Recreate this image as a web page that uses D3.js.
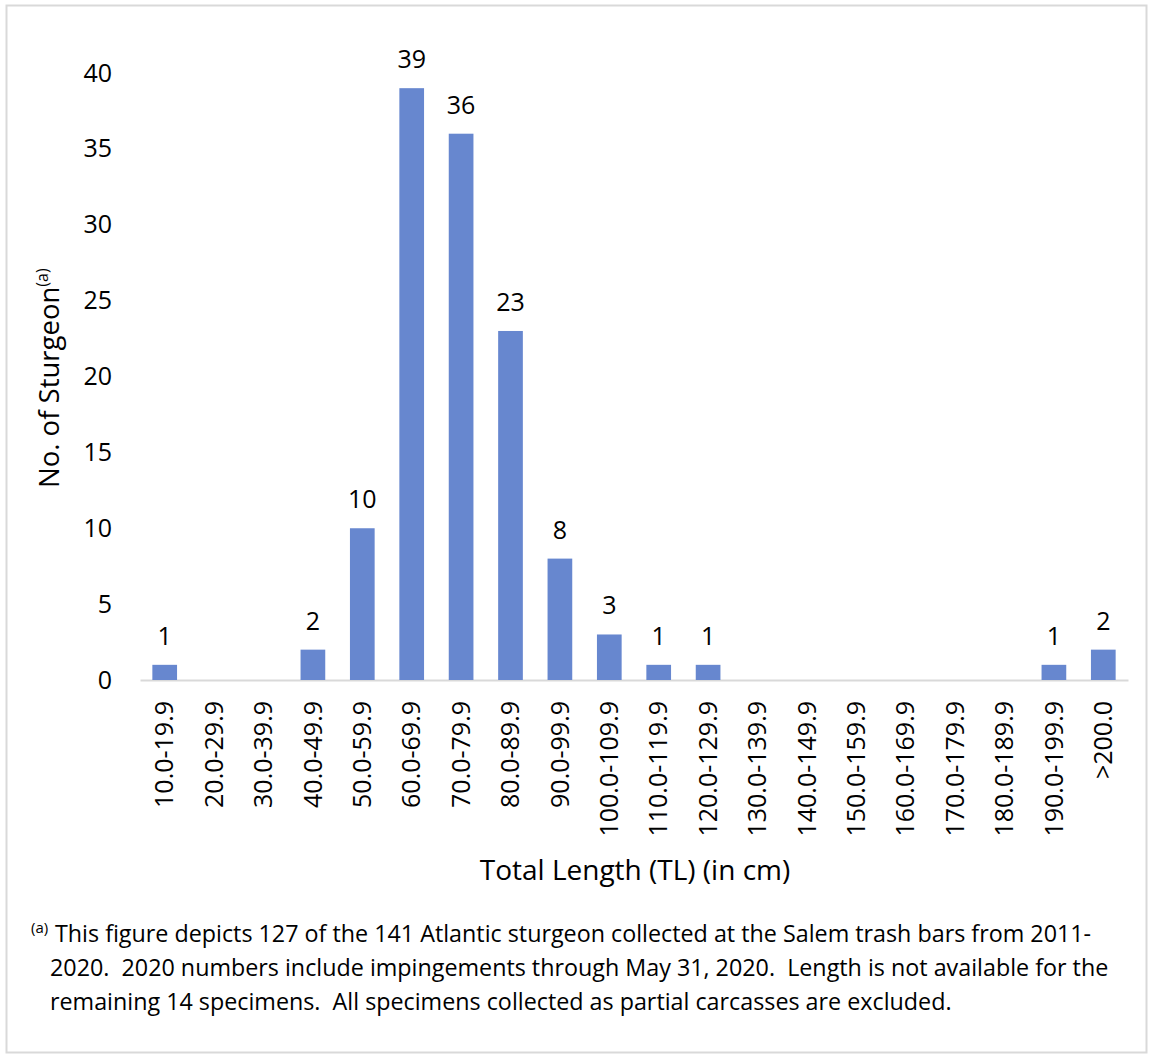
<!DOCTYPE html>
<html>
<head>
<meta charset="utf-8">
<script src="https://cdn.jsdelivr.net/npm/d3@7"></script>
<style>
  body { margin: 0; background: #fff; }
  svg text { font-family: "Open Sans", sans-serif; fill: #000; white-space: pre; }
</style>
</head>
<body>
<div id="chart"></div>
<script>
// length classes and number of sturgeon
const categories = ["10.0-19.9", "20.0-29.9", "30.0-39.9", "40.0-49.9", "50.0-59.9", "60.0-69.9",
  "70.0-79.9", "80.0-89.9", "90.0-99.9", "100.0-109.9", "110.0-119.9", "120.0-129.9",
  "130.0-139.9", "140.0-149.9", "150.0-159.9", "160.0-169.9", "170.0-179.9", "180.0-189.9",
  "190.0-199.9", ">200.0"];
const counts = [1, 0, 0, 2, 10, 39, 36, 23, 8, 3, 1, 1, 0, 0, 0, 0, 0, 0, 1, 2];
const yTicks = [0, 5, 10, 15, 20, 25, 30, 35, 40];
const footnote = [
  "This figure depicts 127 of the 141 Atlantic sturgeon collected at the Salem trash bars from 2011-",
  "2020.  2020 numbers include impingements through May 31, 2020.  Length is not available for the",
  "remaining 14 specimens.  All specimens collected as partial carcasses are excluded."
];

const W = 1153, H = 1059;
const margin = { top: 73, right: 25, bottom: 379, left: 140 },
  width = W - margin.left - margin.right,
  height = H - margin.top - margin.bottom;

const svg = d3.select("#chart").append("svg")
  .attr("width", W).attr("height", H);

// outer frame
svg.append("rect")
  .attr("x", 6.5).attr("y", 5.5)
  .attr("width", W - 13).attr("height", H - 12)
  .attr("fill", "none").attr("stroke", "#d9d9d9").attr("stroke-width", 2);

const g = svg.append("g").attr("transform", `translate(${margin.left},${margin.top})`);

const x = d3.scaleBand().domain(categories).range([0, width]).paddingInner(0.5).paddingOuter(0.25);
const y = d3.scaleLinear().domain([0, 40]).range([height, 0]);

const rows = categories.map((c, i) => ({ cat: c, n: counts[i] }));

// y axis (labels only)
g.append("g")
  .call(d3.axisLeft(y).tickValues(yTicks).tickSize(0).tickPadding(28))
  .call(a => a.select(".domain").remove())
  .selectAll("text")
  .attr("font-size", 25)
  .attr("font-family", "'Open Sans', sans-serif");

// x axis
const xa = g.append("g")
  .attr("transform", `translate(0,${height})`)
  .call(d3.axisBottom(x).tickSize(0));
xa.select(".domain").attr("stroke", "#d9d9d9").attr("stroke-width", 2);
xa.selectAll("text")
  .attr("font-size", 25)
  .attr("font-family", "'Open Sans', sans-serif")
  .attr("text-anchor", "end")
  .attr("dy", "0.35em")
  .attr("transform", "translate(0,21) rotate(-90)")
  .attr("x", 0).attr("y", 0);

// bars
g.selectAll(".bar")
  .data(rows)
  .enter()
  .append("rect")
  .attr("class", "bar")
  .attr("x", d => x(d.cat))
  .attr("y", d => y(d.n))
  .attr("width", x.bandwidth())
  .attr("height", d => height - y(d.n))
  .attr("fill", "#6787cf");

// value labels
g.selectAll(".val")
  .data(rows.filter(d => d.n > 0))
  .enter()
  .append("text")
  .attr("class", "val")
  .attr("x", d => x(d.cat) + x.bandwidth() / 2)
  .attr("y", d => y(d.n) - 20)
  .attr("text-anchor", "middle")
  .attr("font-size", 25)
  .text(d => d.n);

// axis titles
g.append("text")
  .attr("x", width / 2 + 1)
  .attr("y", height + 200)
  .attr("text-anchor", "middle")
  .attr("font-size", 28)
  .text("Total Length (TL) (in cm)");

const yt = svg.append("text")
  .attr("transform", "translate(59,488) rotate(-90)")
  .attr("text-anchor", "start")
  .attr("font-size", 27.5);
yt.append("tspan").text("No. of Sturgeon");
yt.append("tspan").attr("font-size", 16).attr("dy", -11).text("(a)");

// footnote
const fn = svg.append("g");
fn.append("text").attr("x", 31).attr("y", 933).attr("font-size", 15).text("(a)");
footnote.forEach((line, i) => {
  fn.append("text")
    .attr("x", i === 0 ? 55 : 50)
    .attr("y", 942 + i * 34)
    .attr("font-size", 23.3)
    .text(line);
});
</script>
</body>
</html>
